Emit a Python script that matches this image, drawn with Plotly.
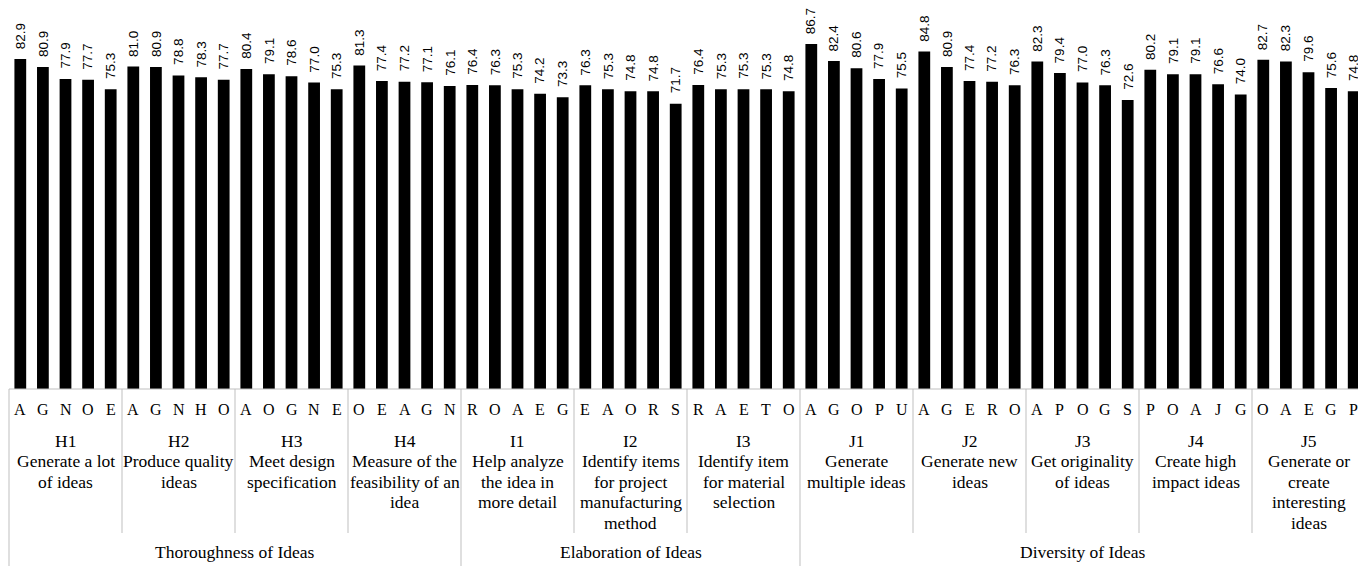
import plotly.graph_objects as go

# ---- data ----
groups = ["H1", "H2", "H3", "H4", "I1", "I2", "I3", "J1", "J2", "J3", "J4", "J5"]
group_desc = [
    ["Generate a lot", "of ideas"],
    ["Produce quality", "ideas"],
    ["Meet design", "specification"],
    ["Measure of the", "feasibility of an", "idea"],
    ["Help analyze", "the idea in", "more detail"],
    ["Identify items", "for project", "manufacturing", "method"],
    ["Identify item", "for material", "selection"],
    ["Generate", "multiple ideas"],
    ["Generate new", "ideas"],
    ["Get originality", "of ideas"],
    ["Create high", "impact ideas"],
    ["Generate or", "create", "interesting", "ideas"],
]
letters = [
    ["A", "G", "N", "O", "E"],
    ["A", "G", "N", "H", "O"],
    ["A", "O", "G", "N", "E"],
    ["O", "E", "A", "G", "N"],
    ["R", "O", "A", "E", "G"],
    ["E", "A", "O", "R", "S"],
    ["R", "A", "E", "T", "O"],
    ["A", "G", "O", "P", "U"],
    ["A", "G", "E", "R", "O"],
    ["A", "P", "O", "G", "S"],
    ["P", "O", "A", "J", "G"],
    ["O", "A", "E", "G", "P"],
]
values = [
    [82.9, 80.9, 77.9, 77.7, 75.3],
    [81.0, 80.9, 78.8, 78.3, 77.7],
    [80.4, 79.1, 78.6, 77.0, 75.3],
    [81.3, 77.4, 77.2, 77.1, 76.1],
    [76.4, 76.3, 75.3, 74.2, 73.3],
    [76.3, 75.3, 74.8, 74.8, 71.7],
    [76.4, 75.3, 75.3, 75.3, 74.8],
    [86.7, 82.4, 80.6, 77.9, 75.5],
    [84.8, 80.9, 77.4, 77.2, 76.3],
    [82.3, 79.4, 77.0, 76.3, 72.6],
    [80.2, 79.1, 79.1, 76.6, 74.0],
    [82.7, 82.3, 79.6, 75.6, 74.8],
]
super_groups = ["Thoroughness of Ideas", "Elaboration of Ideas", "Diversity of Ideas"]
super_sizes = [4, 3, 5]  # number of sub-groups in each

# ---- layout constants ----
OFF = 8                 # page body margin
W, H = 1366 - OFF, 566 - OFF
PLOT_H = 389 - OFF      # plot bottom (figure px)
GRID = "#bfbfbf"
SERIF = "Liberation Serif"
LABEL_SIZE = 17.5
LINE_STEP = 20.4


def py(p):
    """page pixel (from top) -> paper y"""
    return (PLOT_H - (p - OFF)) / PLOT_H


flat_vals = [v for g in values for v in g]
flat_letters = [l for g in letters for l in g]
xs = list(range(len(flat_vals)))
n = len(flat_vals)

fig = go.Figure()
fig.add_trace(go.Bar(x=xs, y=flat_vals, marker=dict(color="black", line=dict(width=0)),
                     hoverinfo="x+y"))

ann = []
# value labels
for x, v in zip(xs, flat_vals):
    ann.append(dict(x=x, y=v, xref="x", yref="y", text=f"{v:.1f}", textangle=-90,
                    showarrow=False, yanchor="bottom", xanchor="center", yshift=8,
                    font=dict(family="Liberation Sans", size=13.5, color="black")))
# letters
for x, l in zip(xs, flat_letters):
    ann.append(dict(x=x, y=py(410), xref="x", yref="paper", text=l, showarrow=False,
                    yanchor="middle", xanchor="center",
                    font=dict(family=SERIF, size=16, color="black")))
# group labels (one annotation per line for tight line spacing)
per = len(letters[0])
for i, (g, d) in enumerate(zip(groups, group_desc)):
    xc = i * per + (per - 1) / 2
    for k, line in enumerate([g] + d):
        ann.append(dict(x=xc, y=py(441 + LINE_STEP * k), xref="x", yref="paper", text=line,
                        showarrow=False, yanchor="middle", xanchor="center",
                        font=dict(family=SERIF, size=LABEL_SIZE, color="black")))
# super group labels
shapes = []
start = 0
for name, sz in zip(super_groups, super_sizes):
    x0 = start * per - 0.5
    x1 = (start + sz) * per - 0.5
    ann.append(dict(x=(x0 + x1) / 2, y=py(552), xref="x", yref="paper", text=name,
                    showarrow=False, yanchor="middle", xanchor="center",
                    font=dict(family=SERIF, size=LABEL_SIZE, color="black")))
    start += sz

# dividers
super_bounds = [0]
for sz in super_sizes:
    super_bounds.append(super_bounds[-1] + sz)
for gi in range(len(groups) + 1):
    xp = gi * per / n
    y_end = py(570) if gi in super_bounds else py(533)
    shapes.append(dict(type="line", xref="paper", yref="paper", x0=xp, x1=xp, y0=0, y1=y_end,
                       line=dict(color=GRID, width=1)))
shapes.append(dict(type="line", xref="paper", yref="paper", x0=0, x1=1, y0=0, y1=0,
                   line=dict(color=GRID, width=1)))

fig.update_layout(
    width=W, height=H,
    margin=dict(l=1, r=1, t=0, b=H - PLOT_H),
    paper_bgcolor="white", plot_bgcolor="white",
    bargap=0.48, showlegend=False,
    xaxis=dict(range=[-0.5, n - 0.5], showticklabels=False, ticks="", showgrid=False,
               zeroline=False, showline=False, fixedrange=True),
    yaxis=dict(range=[0, PLOT_H / 3.98], visible=False, fixedrange=True),
    annotations=ann, shapes=shapes,
)

fig.write_html("out.html")
